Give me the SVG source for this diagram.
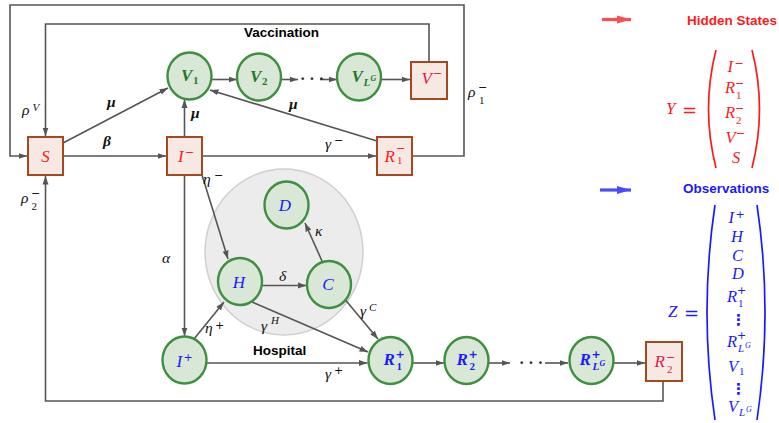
<svg xmlns="http://www.w3.org/2000/svg" width="779" height="423" viewBox="0 0 779 423">
  <defs>
    <marker id="ah" markerUnits="userSpaceOnUse" markerWidth="9" markerHeight="7" refX="8.5" refY="3.5" orient="auto">
      <path d="M0,0.5 L8.5,3.5 L0,6.5 z" fill="#555"/>
    </marker>
    <marker id="ahRed" markerUnits="userSpaceOnUse" markerWidth="15" markerHeight="10" refX="14" refY="5" orient="auto">
      <path d="M0,1 L14,5 L0,9 z" fill="#ff4d4d"/>
    </marker>
    <marker id="ahBlue" markerUnits="userSpaceOnUse" markerWidth="15" markerHeight="10" refX="14" refY="5" orient="auto">
      <path d="M0,1 L14,5 L0,9 z" fill="#4a4aff"/>
    </marker>
  </defs>
  <style>
    .ln { fill: none; stroke: #555; stroke-width: 1.6; }
    .arr { marker-end: url(#ah); }
    .box { fill: #f6e9e4; stroke: #a4491f; stroke-width: 2; }
    .cir { fill: #d9e7d6; stroke: #3f8f40; stroke-width: 2.4; }
    .hosp { fill: #ececec; stroke: #cfcfcf; stroke-width: 1.5; }
    .mi { font-family: "Liberation Serif", "DejaVu Serif", serif; font-style: italic; }
    .nl { font-size: 17px; }
    .ml { font-size: 16.5px; }
    .sm { font-size: 11px; }
    .xs { font-size: 8px; }
    .up { font-style: normal; }
    .op { font-family: "DejaVu Sans", sans-serif; font-style: normal; font-weight: normal; font-size: 11px; }
    .eq { font-family: "DejaVu Sans", sans-serif; font-size: 18px; }
    .b { font-weight: bold; }
    .red { fill: #ff1a1a; }
    .crim { fill: #e3184a; }
    .blue { fill: #1a1aff; }
    .grn { fill: #1f7a24; font-weight: bold; }
    .gk { font-size: 15.5px; fill: #111; }
    .lbl { font-family: "Liberation Sans", Arial, sans-serif; font-weight: bold; font-size: 13.5px; }
    .dots { font-family: "Liberation Serif", serif; font-size: 16px; font-weight: bold; fill: #222; }
    .vd { font-family: "DejaVu Sans", sans-serif; font-size: 15px; font-weight: bold; }
    .par { fill: none; stroke-width: 1.7; }
  </style>

  <!-- hospital compartment background -->
  <g id="hospital">
    <ellipse class="hosp" cx="284" cy="252" rx="79" ry="83"/>
    <text class="lbl" x="253" y="355">Hospital</text>
  </g>

  <text class="lbl" x="244" y="37">Vaccination</text>

  <!-- connectors -->
  <g id="connectors">
    <path class="ln arr" d="M412,156 H464 V5 H10 V156 H27"/>
    <path class="ln arr" d="M429,62 V24 H45.5 V136"/>
    <path class="ln arr" d="M63,156 H166"/>
    <path class="ln arr" d="M63,143 L168,88"/>
    <path class="ln arr" d="M184.5,137 V99.5"/>
    <path class="ln arr" d="M211.5,79.5 H237"/>
    <path class="ln arr" d="M281,79.5 H298"/>
    <path class="ln arr" d="M320,79.5 H337"/>
    <path class="ln arr" d="M381,79.5 H410"/>
    <path class="ln arr" d="M377,141 L210,90"/>
    <path class="ln arr" d="M202,156 H376"/>
    <path class="ln arr" d="M184.5,175 V336"/>
    <path class="ln arr" d="M202,175 L228,259"/>
    <path class="ln arr" d="M262,285.5 H306.5"/>
    <path class="ln arr" d="M322,261 L305,223"/>
    <path class="ln arr" d="M343,297 L378,339"/>
    <path class="ln arr" d="M252,302 L368,352"/>
    <path class="ln arr" d="M194,339 L224,302"/>
    <path class="ln arr" d="M206.5,363 H367.5"/>
    <path class="ln arr" d="M413,363 H444"/>
    <path class="ln arr" d="M489,363 H510"/>
    <path class="ln arr" d="M545,363 H568"/>
    <path class="ln arr" d="M614,363 H645"/>
    <path class="ln arr" d="M663,381 V401 H45.5 V176"/>
    <text class="dots" x="300" y="84">· · ·</text>
    <text class="dots" x="519" y="368">· · ·</text>
  </g>

  <!-- rate labels -->
  <g id="rates" class="mi gk">
    <text x="22" y="115">ρ<tspan class="sm" x="32.5" y="111">V</tspan></text>
    <text class="b" x="107" y="107">μ</text>
    <text class="b" x="103" y="146">β</text>
    <text class="b" x="191" y="118">μ</text>
    <text class="b" x="289" y="109">μ</text>
    <text x="325" y="149">γ<tspan class="op" x="334" y="143.5">−</tspan></text>
    <text x="468" y="97">ρ<tspan class="op" x="478" y="91">−</tspan><tspan class="sm up" x="479" y="103.5">1</tspan></text>
    <text x="21" y="203">ρ<tspan class="op" x="31" y="197">−</tspan><tspan class="sm up" x="31.5" y="209.5">2</tspan></text>
    <text x="203" y="184">η<tspan class="op" x="214" y="178.5">−</tspan></text>
    <text x="162" y="263">α</text>
    <text x="205" y="333">η<tspan class="op" x="215" y="329">+</tspan></text>
    <text x="279" y="281">δ</text>
    <text x="315" y="236">κ</text>
    <text x="360" y="316">γ<tspan class="sm" x="369" y="311">C</tspan></text>
    <text x="261" y="331">γ<tspan class="sm" x="271" y="324">H</tspan></text>
    <text x="325" y="379">γ<tspan class="op" x="334" y="374">+</tspan></text>
  </g>

  <!-- hidden-state compartments -->
  <g id="S">
    <rect class="box" x="28" y="137" width="35" height="38"/>
    <text class="mi nl red" x="45.5" y="162" text-anchor="middle">S</text>
  </g>
  <g id="I_minus">
    <rect class="box" x="167" y="137" width="35" height="38"/>
    <text class="mi nl red" x="178" y="162">I<tspan class="op" x="185" y="155.5">−</tspan></text>
  </g>
  <g id="R1_minus">
    <rect class="box" x="377" y="137" width="35" height="38"/>
    <text class="mi nl red" x="384.5" y="162">R<tspan class="op" x="396" y="151.5">−</tspan><tspan class="sm up" x="397" y="164">1</tspan></text>
  </g>
  <g id="V_minus">
    <rect class="box" x="411" y="62" width="36" height="37"/>
    <text class="mi nl crim" x="421.5" y="84">V<tspan class="op" x="433" y="76.5">−</tspan></text>
  </g>
  <g id="R2_minus">
    <rect class="box" x="646" y="342" width="36" height="39"/>
    <text class="mi nl crim" x="654.5" y="367">R<tspan class="op" x="666" y="360.5">−</tspan><tspan class="sm up" x="667" y="373">2</tspan></text>
  </g>

  <!-- vaccinated compartments -->
  <g id="V1">
    <ellipse class="cir" cx="189.5" cy="76" rx="22" ry="23.5"/>
    <text class="mi nl grn" x="181" y="81">V<tspan class="sm up" x="193" y="84">1</tspan></text>
  </g>
  <g id="V2">
    <ellipse class="cir" cx="259" cy="77" rx="22" ry="23.5"/>
    <text class="mi nl grn" x="250" y="82">V<tspan class="sm up" x="262" y="85">2</tspan></text>
  </g>
  <g id="V_LG">
    <ellipse class="cir" cx="359" cy="77" rx="22" ry="23.5"/>
    <text class="mi nl grn" x="351.5" y="82">V<tspan class="sm" x="363.5" y="86">L</tspan><tspan class="xs" x="370.5" y="81">G</tspan></text>
  </g>

  <!-- observed compartments -->
  <g id="I_plus">
    <ellipse class="cir" cx="184.5" cy="360" rx="22" ry="23.5"/>
    <text class="mi nl blue" x="176.5" y="367">I<tspan class="op" x="183.5" y="360.5">+</tspan></text>
  </g>
  <g id="H">
    <ellipse class="cir" cx="240" cy="281.5" rx="22" ry="23.5"/>
    <text class="mi nl blue" x="239" y="287.5" text-anchor="middle">H</text>
  </g>
  <g id="D">
    <ellipse class="cir" cx="286.5" cy="205" rx="22" ry="23.5"/>
    <text class="mi nl blue" x="285" y="210.5" text-anchor="middle">D</text>
  </g>
  <g id="C">
    <ellipse class="cir" cx="329" cy="284.5" rx="22" ry="23.5"/>
    <text class="mi nl blue" x="328" y="290" text-anchor="middle">C</text>
  </g>
  <g id="R1_plus">
    <ellipse class="cir" cx="390.5" cy="360.5" rx="22" ry="23.5"/>
    <text class="mi nl blue b" x="383.5" y="365">R<tspan class="op b" x="395.5" y="357.5">+</tspan><tspan class="sm up" x="396.5" y="370">1</tspan></text>
  </g>
  <g id="R2_plus">
    <ellipse class="cir" cx="466.5" cy="360.5" rx="22" ry="23.5"/>
    <text class="mi nl blue b" x="456.5" y="365">R<tspan class="op b" x="468.5" y="357.5">+</tspan><tspan class="sm up" x="469.5" y="370">2</tspan></text>
  </g>
  <g id="R_LG_plus">
    <ellipse class="cir" cx="591.5" cy="360.5" rx="22" ry="23.5"/>
    <text class="mi nl blue b" x="579.5" y="365">R<tspan class="op b" x="591.5" y="357.5">+</tspan><tspan class="sm" x="592.5" y="370">L</tspan><tspan class="xs" x="599.5" y="366">G</tspan></text>
  </g>

  <!-- legend: hidden states -->
  <g id="legend_hidden">
    <path d="M602,19.5 H631" stroke="#ff4d4d" stroke-width="3.2" fill="none" marker-end="url(#ahRed)"/>
    <text class="lbl red" x="687" y="25">Hidden States</text>
    <text class="mi red" font-size="17" x="666" y="114">Y</text>
    <text class="eq red" x="682" y="116">=</text>
    <path class="par" stroke="#ff1a1a" d="M716,50 Q701,109 716,168"/>
    <path class="par" stroke="#ff1a1a" d="M752,50 Q767,109 752,168"/>
    <g class="mi ml red">
      <text x="727.5" y="72">I<tspan class="op" x="734.5" y="66.5">−</tspan></text>
      <text x="725" y="93">R<tspan class="op" x="735" y="86.5">−</tspan><tspan class="sm up" x="736" y="99">1</tspan></text>
      <text x="725" y="118">R<tspan class="op" x="735" y="111.5">−</tspan><tspan class="sm up" x="736" y="124">2</tspan></text>
      <text x="725.5" y="143">V<tspan class="op" x="736" y="136.5">−</tspan></text>
      <text x="736" y="163" text-anchor="middle">S</text>
    </g>
  </g>

  <!-- legend: observations -->
  <g id="legend_observed">
    <path d="M600,190 H631" stroke="#4a4aff" stroke-width="3.2" fill="none" marker-end="url(#ahBlue)"/>
    <text class="lbl blue" x="683" y="193">Observations</text>
    <text class="mi blue" font-size="17" x="668" y="317">Z</text>
    <text class="eq blue" x="684" y="319">=</text>
    <path class="par" stroke="#1a1aff" d="M715,205 Q699,312 715,420"/>
    <path class="par" stroke="#1a1aff" d="M757,205 Q773,312 757,420"/>
    <g class="mi ml blue">
      <text x="728.5" y="223">I<tspan class="op" x="735.5" y="217.5">+</tspan></text>
      <text x="737" y="242" text-anchor="middle">H</text>
      <text x="737.5" y="261" text-anchor="middle">C</text>
      <text x="738" y="279" text-anchor="middle">D</text>
      <text x="727" y="302">R<tspan class="op" x="737" y="294">+</tspan><tspan class="sm up" x="738" y="306.5">1</tspan></text>
      <text class="vd up" x="738.5" y="325" text-anchor="middle">⋮</text>
      <text x="727" y="347">R<tspan class="op" x="737" y="339">+</tspan><tspan class="sm" x="738" y="352">L</tspan><tspan class="xs" x="745" y="348">G</tspan></text>
      <text x="728" y="372">V<tspan class="sm up" x="739" y="375">1</tspan></text>
      <text class="vd up" x="738.5" y="394" text-anchor="middle">⋮</text>
      <text x="728" y="412">V<tspan class="sm" x="739" y="416">L</tspan><tspan class="xs" x="746" y="412">G</tspan></text>
    </g>
  </g>
</svg>
